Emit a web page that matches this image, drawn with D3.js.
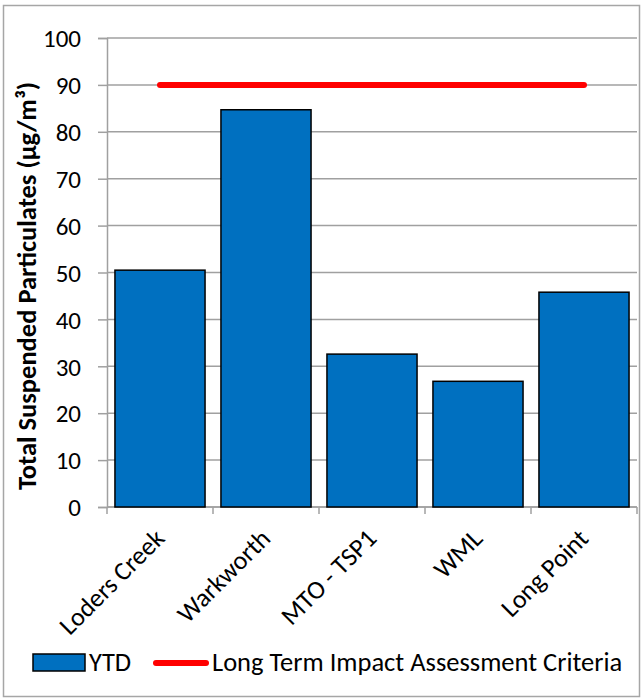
<!DOCTYPE html>
<html>
<head>
<meta charset="utf-8">
<script src="https://cdn.jsdelivr.net/npm/d3@7"></script>
<style>
  html, body { margin: 0; padding: 0; background: #fff; }
  svg text { font-family: Carlito, Lato, "Open Sans", sans-serif; fill: #000; }
</style>
</head>
<body>
<svg id="chart" width="643" height="699"></svg>
<script>
// Sites and year-to-date TSP averages
const sites = ["Loders Creek", "Warkworth", "MTO - TSP1", "WML", "Long Point"];
const ytd = [50.5, 84.7, 32.6, 26.8, 45.8];
const criteria = 90;
const yTicks = [0, 10, 20, 30, 40, 50, 60, 70, 80, 90, 100];
const legendLabels = ["YTD", "Long Term Impact Assessment Criteria"];

const svg = d3.select("#chart");
const W = 643, H = 699;
const m = { left: 107, right: 637, top: 38, bottom: 507 };
const FONT = "Carlito, Lato, sans-serif";

// outer frame
svg.append("rect").attr("x", 3.5).attr("y", 5.5).attr("width", W - 7).attr("height", H - 8)
  .attr("fill", "#fff").attr("stroke", "#a6a6a6").attr("stroke-width", 1.5);

const x = d3.scaleBand().domain(sites).range([m.left, m.right]).paddingInner(0.15).paddingOuter(0.075);
const y = d3.scaleLinear().domain([0, 100]).range([m.bottom, m.top]);

// horizontal gridlines
svg.append("g").selectAll("line").data(yTicks).join("line")
  .attr("x1", m.left).attr("x2", m.right)
  .attr("y1", d => y(d)).attr("y2", d => y(d))
  .attr("stroke", "#a0a0a0").attr("stroke-width", 1.5);

// y axis
const yAxis = svg.append("g").attr("transform", `translate(${m.left},0)`)
  .call(d3.axisLeft(y).tickValues(yTicks).tickSize(9).tickPadding(17));
yAxis.select(".domain").attr("stroke", "#a0a0a0").attr("stroke-width", 1.5);
yAxis.selectAll(".tick line").attr("stroke", "#a0a0a0").attr("stroke-width", 1.5);
yAxis.selectAll(".tick text").attr("font-size", 25).attr("font-family", FONT).attr("dy", "0.35em");

// x axis with boundary ticks between categories
const xAxisG = svg.append("g");
xAxisG.append("line").attr("x1", m.left).attr("x2", m.right).attr("y1", m.bottom).attr("y2", m.bottom)
  .attr("stroke", "#a0a0a0").attr("stroke-width", 1.5);
const bounds = d3.range(sites.length + 1).map(i => m.left + i * (m.right - m.left) / sites.length);
xAxisG.selectAll("line.tk").data(bounds).join("line").attr("class", "tk")
  .attr("x1", d => d).attr("x2", d => d).attr("y1", m.bottom).attr("y2", m.bottom + 7)
  .attr("stroke", "#a0a0a0").attr("stroke-width", 1.5);

// bars
svg.append("g").selectAll("rect").data(sites).join("rect")
  .attr("x", d => x(d)).attr("width", x.bandwidth())
  .attr("y", (d, i) => y(ytd[i])).attr("height", (d, i) => y(0) - y(ytd[i]))
  .attr("fill", "#0070c0").attr("stroke", "#000").attr("stroke-width", 1.5);

// criteria line across category centres
svg.append("line")
  .attr("x1", x(sites[0]) + x.bandwidth() / 2).attr("x2", x(sites[sites.length - 1]) + x.bandwidth() / 2)
  .attr("y1", y(criteria)).attr("y2", y(criteria))
  .attr("stroke", "#ff0000").attr("stroke-width", 6).attr("stroke-linecap", "round");

// category labels, rotated
svg.append("g").selectAll("text").data(sites).join("text")
  .attr("transform", d => `translate(${x(d) + x.bandwidth() / 2 + 6},${m.bottom + 33}) rotate(-45)`)
  .attr("text-anchor", "end").attr("font-size", 26).text(d => d);

// y axis title
svg.append("text")
  .attr("transform", `translate(36,286) rotate(-90)`)
  .attr("text-anchor", "middle").attr("font-size", 26.5).attr("font-weight", "bold")
  .text("Total Suspended Particulates (µg/m³)");

// legend
const lg = svg.append("g");
lg.append("rect").attr("x", 33).attr("y", 654).attr("width", 52).attr("height", 17)
  .attr("fill", "#0070c0").attr("stroke", "#000").attr("stroke-width", 1.5);
lg.append("text").attr("x", 89).attr("y", 671).attr("font-size", 26.5).text(legendLabels[0]);
lg.append("line").attr("x1", 156).attr("x2", 206).attr("y1", 663).attr("y2", 663)
  .attr("stroke", "#ff0000").attr("stroke-width", 6).attr("stroke-linecap", "round");
lg.append("text").attr("x", 212).attr("y", 671).attr("font-size", 26.5).text(legendLabels[1]);
</script>
</body>
</html>
